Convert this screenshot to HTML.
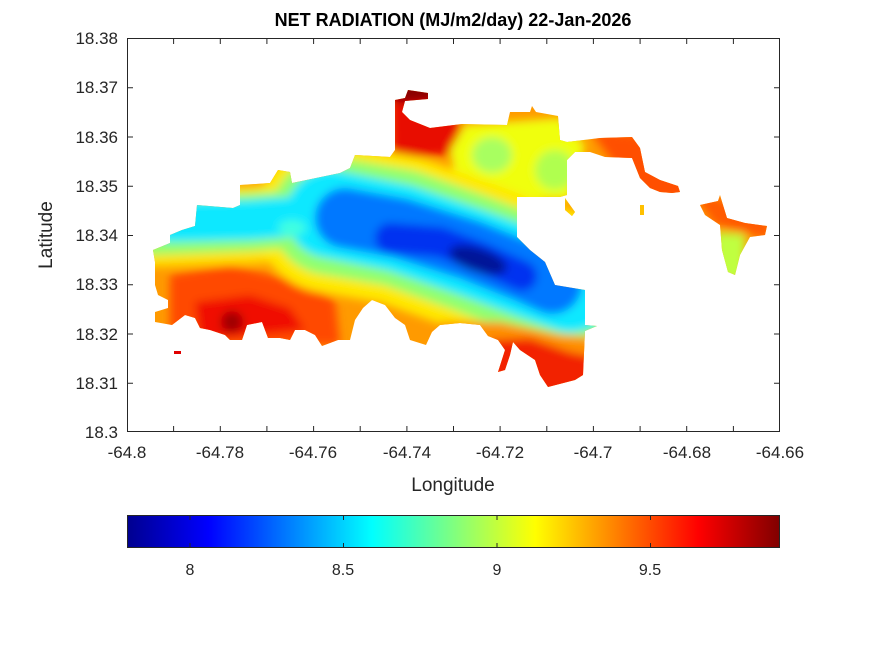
<!DOCTYPE html>
<html><head><meta charset="utf-8"><style>
body{margin:0;background:#fff;}
svg{display:block;font-family:"Liberation Sans",Arial,sans-serif;}
</style></head><body>
<svg width="875" height="656" viewBox="0 0 875 656">
<defs>
<clipPath id="isl">
<path d="M153,250 L170,243 L170,235 L182,230 L195,226 L197,205 L233,208 L240,205 L240,185 L270,183 L278,170 L290,172 L292,183 L340,173 L350,168 L355,155 L390,157 L395,150 L395,100 L405,98 L408,90 L428,93 L428,99 L405,101 L402,112 L410,120 L430,128 L462,124 L507,125 L510,112 L530,112 L532,106 L536,112 L558,116 L560,140 L567,142 L567,195 L560,197 L517,197 L517,237 L530,250 L545,262 L555,285 L585,290 L585,325 L597,326 L585,331 L583,375 L575,380 L548,387 L540,375 L535,360 L520,350 L513,342 L510,355 L505,370 L498,372 L505,350 L498,340 L488,336 L480,325 L460,323 L440,325 L432,332 L426,345 L410,340 L405,325 L395,318 L385,305 L372,300 L363,308 L355,320 L350,340 L338,340 L322,346 L315,335 L305,330 L295,330 L290,340 L280,338 L268,338 L262,322 L247,325 L242,340 L230,340 L225,335 L210,330 L200,328 L195,318 L185,315 L172,325 L155,322 L155,312 L168,308 L168,300 L158,295 L155,285 L155,262 Z"/>
<path d="M567,142 L600,138 L632,137 L640,148 L645,172 L660,180 L678,186 L680,192 L672,193 L660,192 L650,188 L640,178 L632,158 L605,157 L590,152 L575,152 L567,160 Z"/>
<path d="M700,205 L718,201 L720,195 L723,205 L727,218 L745,223 L767,226 L765,235 L750,237 L740,255 L735,275 L728,272 L722,250 L720,225 L705,215 Z"/>
<path d="M565,198 L575,212 L572,216 L565,210 Z"/>
</clipPath>
<filter id="bl" x="-20%" y="-20%" width="140%" height="140%"><feGaussianBlur stdDeviation="4.5"/></filter>
<linearGradient id="jet" x1="0" x2="1" y1="0" y2="0">
<stop offset="0" stop-color="#00008f"/>
<stop offset="0.125" stop-color="#0000ff"/>
<stop offset="0.375" stop-color="#00ffff"/>
<stop offset="0.625" stop-color="#ffff00"/>
<stop offset="0.875" stop-color="#ff0000"/>
<stop offset="1" stop-color="#800000"/>
</linearGradient>
</defs>

<g clip-path="url(#isl)">
<rect x="127" y="38" width="653" height="394" fill="#ff9a00"/>
<g filter="url(#bl)">
<path d="M170,275 L230,265 L300,282 L335,300 L340,345 L170,345 Z" fill="#ff4a00"/>
<path d="M195,302 L250,295 L290,308 L305,330 L200,340 Z" fill="#f01000"/>
<ellipse cx="232" cy="322" rx="11" ry="11" fill="#a00000"/>
<path d="M390,80 L440,100 L462,125 L450,155 L392,158 Z" fill="#e81000"/>
<path d="M355,75 L435,80 L435,100 L400,103 Z" fill="#8a0000"/>
<path d="M590,130 L700,140 L700,200 L640,200 Z" fill="#ff5000"/>
<path d="M690,190 L770,215 L770,240 L715,225 Z" fill="#ff5a00"/>
<path d="M715,232 L745,234 L745,280 L715,280 Z" fill="#c0ff40"/>
<path d="M465,125 L560,118 L585,145 L570,200 L460,200 L450,150 Z" fill="#f0ff10"/>
<ellipse cx="492" cy="155" rx="20" ry="18" fill="#a8ff60"/>
<ellipse cx="555" cy="170" rx="20" ry="20" fill="#b0ff50"/>
<path d="M150,228 L250,225 L330,218" fill="none" stroke="#ffe000" stroke-width="78" stroke-linecap="round"/>
<path d="M330,218 L400,230 L470,255 L530,278 L600,292" fill="none" stroke="#ffe800" stroke-width="150" stroke-linejoin="round" stroke-linecap="round"/>
<path d="M150,226 L250,222 L330,216" fill="none" stroke="#90ff70" stroke-width="58" stroke-linecap="round"/>
<path d="M330,216 L400,228 L470,253 L530,276 L590,292" fill="none" stroke="#90ff70" stroke-width="118" stroke-linejoin="round" stroke-linecap="round"/>
<path d="M170,222 L250,220 L330,214" fill="none" stroke="#10e8ff" stroke-width="40" stroke-linecap="round"/>
<path d="M330,214 L400,228 L470,252 L530,274 L570,288" fill="none" stroke="#10e8ff" stroke-width="88" stroke-linejoin="round" stroke-linecap="round"/>
<path d="M345,218 L400,228 L470,250 L525,272 L552,284" fill="none" stroke="#0078ff" stroke-width="60" stroke-linejoin="round" stroke-linecap="round"/>
<path d="M390,238 L440,242 L480,257 L522,276" fill="none" stroke="#0030f0" stroke-width="30" stroke-linejoin="round" stroke-linecap="round"/>
<ellipse cx="478" cy="260" rx="30" ry="12" transform="rotate(18 478 260)" fill="#001898"/>
<ellipse cx="292" cy="228" rx="14" ry="8" fill="#40ffe0"/>
<path d="M440,322 L500,322 L560,335 L600,338 L600,400 L440,400 Z" fill="#ff9000"/>
<path d="M490,340 L530,338 L570,352 L600,358 L590,400 L490,400 Z" fill="#f22000"/>
</g>
</g>
<rect x="174" y="351" width="7" height="3" fill="#e00000"/>
<rect x="640" y="205" width="4" height="10" fill="#ffc000"/>

<rect x="127.5" y="38.5" width="652" height="393" fill="none" stroke="#262626" stroke-width="1"/>
<g stroke="#262626" stroke-width="1">
<path d="M127,87.8h6M127,137h6M127,186.2h6M127,235.5h6M127,284.8h6M127,334h6M127,383.2h6M780,87.8h-6M780,137h-6M780,186.2h-6M780,235.5h-6M780,284.8h-6M780,334h-6M780,383.2h-6"/>
<path d="M173.6,432v-6M220.3,432v-6M266.9,432v-6M313.6,432v-6M360.2,432v-6M406.9,432v-6M453.5,432v-6M500.1,432v-6M546.8,432v-6M593.4,432v-6M640.1,432v-6M686.7,432v-6M733.4,432v-6M173.6,38v6M220.3,38v6M266.9,38v6M313.6,38v6M360.2,38v6M406.9,38v6M453.5,38v6M500.1,38v6M546.8,38v6M593.4,38v6M640.1,38v6M686.7,38v6M733.4,38v6"/>
</g>
<g font-size="17" fill="#262626" text-anchor="end">
<text x="118" y="44">18.38</text><text x="118" y="93">18.37</text><text x="118" y="143">18.36</text><text x="118" y="192">18.35</text><text x="118" y="241">18.34</text><text x="118" y="290">18.33</text><text x="118" y="340">18.32</text><text x="118" y="389">18.31</text><text x="118" y="438">18.3</text>
</g>
<g font-size="17" fill="#262626" text-anchor="middle">
<text x="127" y="458">-64.8</text><text x="220" y="458">-64.78</text><text x="313" y="458">-64.76</text><text x="407" y="458">-64.74</text><text x="500" y="458">-64.72</text><text x="593" y="458">-64.7</text><text x="687" y="458">-64.68</text><text x="780" y="458">-64.66</text>
<text x="453" y="491" font-size="19">Longitude</text>
<text x="453" y="26" font-size="18" font-weight="bold" fill="#000">NET RADIATION (MJ/m2/day) 22-Jan-2026</text>
</g>
<text x="52" y="235" font-size="19" fill="#262626" text-anchor="middle" transform="rotate(-90 52 235)">Latitude</text>

<rect x="127" y="515" width="653" height="33" fill="url(#jet)"/>
<rect x="127.5" y="515.5" width="652" height="32" fill="none" stroke="#262626"/>
<g stroke="#262626"><path d="M190,548v-5M343.5,548v-5M497,548v-5M650.5,548v-5M190,515v5M343.5,515v5M497,515v5M650.5,515v5"/></g>
<g font-size="16" fill="#262626" text-anchor="middle">
<text x="190" y="575">8</text><text x="343" y="575">8.5</text><text x="497" y="575">9</text><text x="650" y="575">9.5</text>
</g>
</svg>
</body></html>
